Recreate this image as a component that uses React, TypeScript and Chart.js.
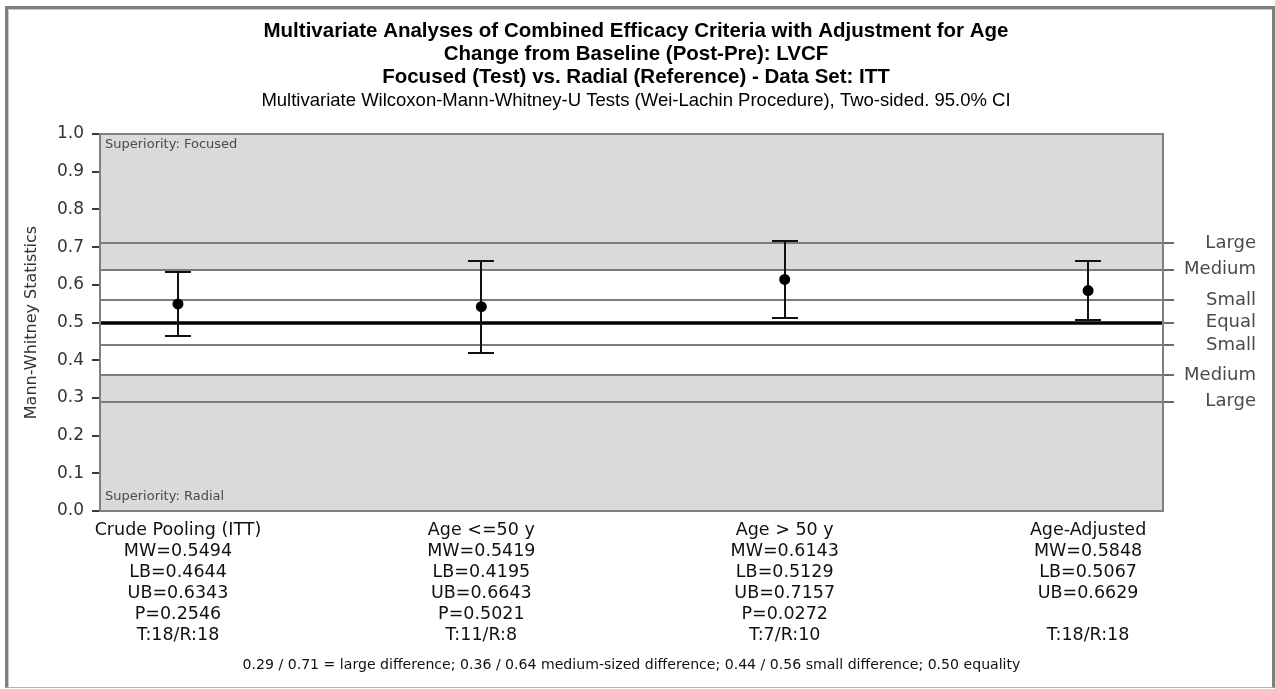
import React, { useEffect, useRef } from 'react';
import { Chart, registerables } from 'chart.js';

Chart.register(...registerables);

const titleLines = [
  'Multivariate Analyses of Combined Efficacy Criteria with Adjustment for Age',
  'Change from Baseline (Post-Pre): LVCF',
  'Focused (Test) vs. Radial (Reference) - Data Set: ITT',
];
const subtitleText = 'Multivariate Wilcoxon-Mann-Whitney-U Tests (Wei-Lachin Procedure), Two-sided. 95.0% CI';
const footnoteText = '0.29 / 0.71 = large difference; 0.36 / 0.64 medium-sized difference; 0.44 / 0.56 small difference; 0.50 equality';
const yAxisTitle = 'Mann-Whitney Statistics';

const categories = ['Crude Pooling (ITT)', 'Age <=50 y', 'Age > 50 y', 'Age-Adjusted'];
const mwValues = [0.5494, 0.5419, 0.6143, 0.5848];
const lowerBounds = [0.4644, 0.4195, 0.5129, 0.5067];
const upperBounds = [0.6343, 0.6643, 0.7157, 0.6629];
const pValues = ['0.2546', '0.5021', '0.0272', ''];
const sampleSizes = ['T:18/R:18', 'T:11/R:8', 'T:7/R:10', 'T:18/R:18'];

const refValues = [0.29, 0.36, 0.44, 0.5, 0.56, 0.64, 0.71];
const refLabels = ['Large', 'Medium', 'Small', 'Equal', 'Small', 'Medium', 'Large'];
const bandLow = 0.36;
const bandHigh = 0.64;
const topNote = 'Superiority: Focused';
const bottomNote = 'Superiority: Radial';

const BODY_FONT = '"DejaVu Sans", Verdana, sans-serif';
const TITLE_FONT = '"Liberation Sans", Arial, sans-serif';

const decorPlugin = {
  id: 'decor',
  beforeDatasetsDraw(chart: any) {
    const { ctx, chartArea: a, scales } = chart;
    const y = scales.y;
    const x = scales.x;
    ctx.save();
    ctx.fillStyle = '#dadada';
    ctx.fillRect(a.left, a.top, a.right - a.left, a.bottom - a.top);
    const bt = y.getPixelForValue(bandHigh);
    const bb = y.getPixelForValue(bandLow);
    ctx.fillStyle = '#ffffff';
    ctx.fillRect(a.left, bt, a.right - a.left, bb - bt);
    refValues.forEach((v) => {
      const py = Math.round(y.getPixelForValue(v));
      ctx.beginPath();
      ctx.strokeStyle = v === 0.5 ? '#000000' : '#7c7c7c';
      ctx.lineWidth = v === 0.5 ? 3.5 : 2;
      ctx.moveTo(a.left, py);
      ctx.lineTo(a.right, py);
      ctx.stroke();
    });
    ctx.strokeStyle = '#808080';
    ctx.lineWidth = 2;
    ctx.strokeRect(a.left, a.top, a.right - a.left, a.bottom - a.top);

    ctx.fillStyle = '#4a4a4a';
    ctx.font = '13px ' + BODY_FONT;
    ctx.textAlign = 'left';
    ctx.textBaseline = 'middle';
    ctx.fillText(topNote, a.left + 5, a.top + 11);
    ctx.fillText(bottomNote, a.left + 5, a.bottom - 14);

    ctx.strokeStyle = '#111111';
    ctx.lineWidth = 2;
    mwValues.forEach((_, i) => {
      const px = Math.round(x.getPixelForValue(i));
      const pl = Math.round(y.getPixelForValue(lowerBounds[i]));
      const pu = Math.round(y.getPixelForValue(upperBounds[i]));
      ctx.beginPath();
      ctx.moveTo(px, pl);
      ctx.lineTo(px, pu);
      ctx.moveTo(px - 13, pl);
      ctx.lineTo(px + 13, pl);
      ctx.moveTo(px - 13, pu);
      ctx.lineTo(px + 13, pu);
      ctx.stroke();
    });
    ctx.restore();
  },
};

export default function App() {
  const canvasRef = useRef<HTMLCanvasElement | null>(null);

  useEffect(() => {
    document.body.style.margin = '0';
    const canvas = canvasRef.current;
    if (!canvas) return;
    const chart = new Chart(canvas, {
      type: 'scatter',
      data: {
        datasets: [
          {
            label: 'MW',
            data: mwValues.map((v, i) => ({ x: i, y: v })),
            pointRadius: 5.5,
            pointBackgroundColor: '#000000',
            pointBorderColor: '#000000',
            pointBorderWidth: 0,
          },
        ],
      },
      options: {
        responsive: false,
        animation: false,
        devicePixelRatio: 1,
        layout: { padding: { left: 16, right: 19, top: 0, bottom: 0 } },
        plugins: {
          legend: { display: false },
          tooltip: { enabled: false },
          title: {
            display: true,
            text: titleLines,
            color: '#000000',
            font: { family: TITLE_FONT, size: 20.5, weight: 'bold', lineHeight: 23 / 20.5 },
            padding: { top: 20, bottom: 0 },
          },
          subtitle: {
            display: true,
            text: subtitleText,
            color: '#000000',
            font: { family: TITLE_FONT, size: 18.5, weight: 'normal', lineHeight: 23 / 18.5 },
            padding: { top: 0, bottom: 22 },
          },
        },
        scales: {
          x: {
            type: 'linear',
            position: 'bottom',
            min: -0.257,
            max: 3.247,
            afterBuildTicks: (scale: any) => {
              scale.ticks = categories.map((_, i) => ({ value: i }));
            },
            afterFit: (scale: any) => {
              scale.height = 178;
            },
            grid: { display: false, drawTicks: false, drawOnChartArea: false },
            border: { display: false },
            ticks: {
              autoSkip: false,
              maxRotation: 0,
              padding: 8.5,
              color: '#111111',
              font: { family: BODY_FONT, size: 17.5, lineHeight: 21 / 17.5 },
              callback: (value: any) => {
                const i = Math.round(Number(value));
                return [
                  categories[i],
                  'MW=' + mwValues[i].toFixed(4),
                  'LB=' + lowerBounds[i].toFixed(4),
                  'UB=' + upperBounds[i].toFixed(4),
                  pValues[i] ? 'P=' + pValues[i] : '',
                  sampleSizes[i],
                ];
              },
            },
            title: {
              display: true,
              text: footnoteText,
              color: '#111111',
              font: { family: BODY_FONT, size: 14.1, lineHeight: 1.2 },
              padding: { top: 0, bottom: 15.5 },
            },
          },
          y: {
            type: 'linear',
            position: 'left',
            min: 0,
            max: 1,
            afterFit: (scale: any) => {
              scale.width = 84;
            },
            grid: {
              drawOnChartArea: false,
              drawTicks: true,
              tickLength: 8,
              color: '#3a3a3a',
              lineWidth: 2,
            },
            border: { display: false },
            ticks: {
              stepSize: 0.1,
              autoSkip: false,
              padding: 8,
              color: '#333333',
              font: { family: BODY_FONT, size: 17 },
              callback: (v: any) => Number(v).toFixed(1),
            },
            title: {
              display: true,
              text: yAxisTitle,
              color: '#333333',
              font: { family: BODY_FONT, size: 16, lineHeight: 1.2 },
              padding: { top: 6.5, bottom: 0 },
            },
          },
          y2: {
            type: 'linear',
            position: 'right',
            min: 0,
            max: 1,
            afterBuildTicks: (scale: any) => {
              scale.ticks = refValues.map((v) => ({ value: v }));
            },
            afterFit: (scale: any) => {
              scale.width = 93;
            },
            grid: {
              drawOnChartArea: false,
              drawTicks: true,
              tickLength: 11,
              color: '#6a6a6a',
              lineWidth: 2,
            },
            border: { display: false },
            ticks: {
              autoSkip: false,
              crossAlign: 'far',
              padding: 6,
              color: '#4a4a4a',
              font: { family: BODY_FONT, size: 18 },
              callback: (v: any) => {
                const idx = refValues.findIndex((r) => Math.abs(r - Number(v)) < 1e-9);
                return idx >= 0 ? refLabels[idx] : '';
              },
            },
          },
        },
      },
      plugins: [decorPlugin],
    } as any);
    return () => chart.destroy();
  }, []);

  return (
    <div style={{ position: 'relative', width: 1275, height: 689, background: '#ffffff', overflow: 'hidden' }}>
      <div
        style={{
          position: 'absolute',
          left: 5,
          top: 6,
          width: 1270,
          height: 682,
          boxSizing: 'border-box',
          borderTop: '3px solid #7f7f7f',
          borderLeft: '3px solid #7f7f7f',
          borderRight: '3px solid #7f7f7f',
          borderBottom: '1px solid #b4b4b4',
          boxShadow: 'inset 1px 1px 0 #c8c8c8',
        }}
      />
      <canvas
        ref={canvasRef}
        width={1275}
        height={689}
        style={{ position: 'absolute', left: 0, top: 0, width: 1275, height: 689 }}
      />
    </div>
  );
}
